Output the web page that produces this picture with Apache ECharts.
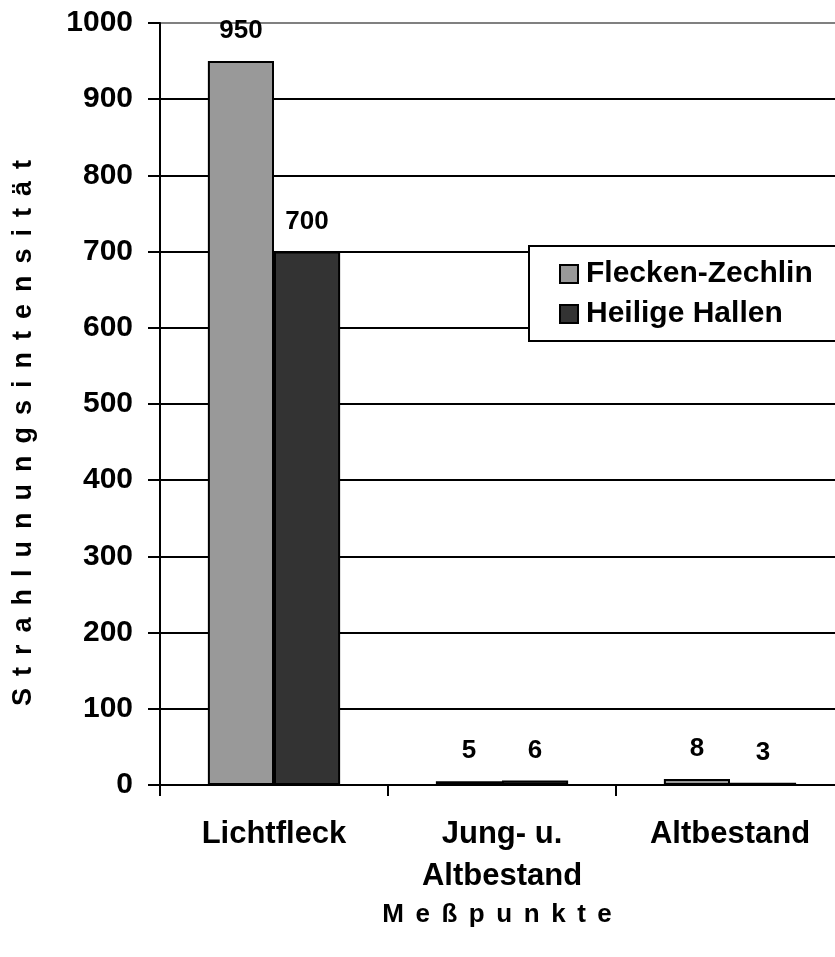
<!DOCTYPE html>
<html>
<head>
<meta charset="utf-8">
<script src="https://cdn.jsdelivr.net/npm/echarts@6/dist/echarts.min.js"></script>
<style>
  html, body { margin: 0; padding: 0; background: #fff; overflow: hidden; }
  /* plot runs a little past the right edge of the picture */
  #chart { width: 844px; height: 957px; }
</style>
</head>
<body>
<div id="chart"></div>
<script>
// data
var categories = ["Lichtfleck", "Jung- u.\nAltbestand", "Altbestand"];
var fleckenZechlin = [950, 5, 8];
var heiligeHallen = [700, 6, 3];
var seriesNames = ["Flecken-Zechlin", "Heilige Hallen"];
var yTicks = { min: 0, max: 1000, interval: 100 };

var font = "Liberation Sans";
var chart = echarts.init(document.getElementById("chart"));

// spread letters like the original axis titles
function spaced(s) {
  return s.split("").join(" \u2006");
}

// top line (1000) is grey, rest black
var gridColors = [];
for (var i = 0; i <= 10; i++) gridColors.push(i === 10 ? "#808080" : "#000");

var labelStyle = {
  show: true,
  position: "top",
  distance: 17,
  color: "#000",
  fontFamily: font,
  fontWeight: "bold",
  fontSize: 26,
};

var option = {
  animation: false,
  backgroundColor: "#fff",
  textStyle: { fontFamily: font },
  grid: { left: 160, right: 0, top: 23, bottom: 172, containLabel: false },
  legend: {
    data: seriesNames,
    orient: "vertical",
    left: 529,
    top: 246,
    backgroundColor: "#fff",
    borderColor: "#000",
    borderWidth: 2,
    padding: [13, 60, 12, 30],
    itemGap: 10,
    itemWidth: 18,
    itemHeight: 18,
    icon: "rect",
    textStyle: {
      color: "#000",
      fontFamily: font,
      fontWeight: "bold",
      fontSize: 30,
      padding: [0, 0, 0, 3],
    },
  },
  xAxis: {
    type: "category",
    data: categories,
    name: spaced("Meßpunkte"),
    nameLocation: "middle",
    nameGap: 114,
    nameTextStyle: { color: "#000", fontFamily: font, fontWeight: "bold", fontSize: 26, padding: [0, 10, 0, 0] },
    axisLine: { lineStyle: { color: "#000", width: 2 } },
    axisTick: { show: true, length: 11, lineStyle: { color: "#000", width: 2 } },
    axisLabel: {
      color: "#000",
      fontFamily: font,
      fontWeight: "bold",
      fontSize: 31,
      lineHeight: 42,
      margin: 28,
      interval: 0,
    },
  },
  yAxis: {
    type: "value",
    min: yTicks.min,
    max: yTicks.max,
    interval: yTicks.interval,
    axisLine: { show: true, lineStyle: { color: "#000", width: 2 } },
    axisTick: { show: true, length: 12, lineStyle: { color: "#000", width: 2 } },
    axisLabel: {
      color: "#000",
      fontFamily: font,
      fontWeight: "bold",
      fontSize: 30,
      margin: 27,
      formatter: function (v) { return String(v); },
    },
    splitLine: { show: true, lineStyle: { color: gridColors, width: 2 } },
  },
  graphic: [
    {
      type: "text",
      x: 24,
      y: 433,
      rotation: Math.PI / 2,
      style: {
        text: spaced("Strahlunungsintensität"),
        fill: "#000",
        font: "bold 27px 'Liberation Sans'",
        align: "center",
        verticalAlign: "middle",
      },
    },
  ],
  series: [
    {
      name: seriesNames[0],
      type: "bar",
      data: fleckenZechlin,
      barGap: "0%",
      barCategoryGap: "42%",
      itemStyle: { color: "#999999", borderColor: "#000", borderWidth: 2 },
      label: labelStyle,
    },
    {
      name: seriesNames[1],
      type: "bar",
      data: heiligeHallen,
      itemStyle: { color: "#333333", borderColor: "#000", borderWidth: 2 },
      label: labelStyle,
    },
  ],
};

chart.setOption(option);
</script>
</body>
</html>
